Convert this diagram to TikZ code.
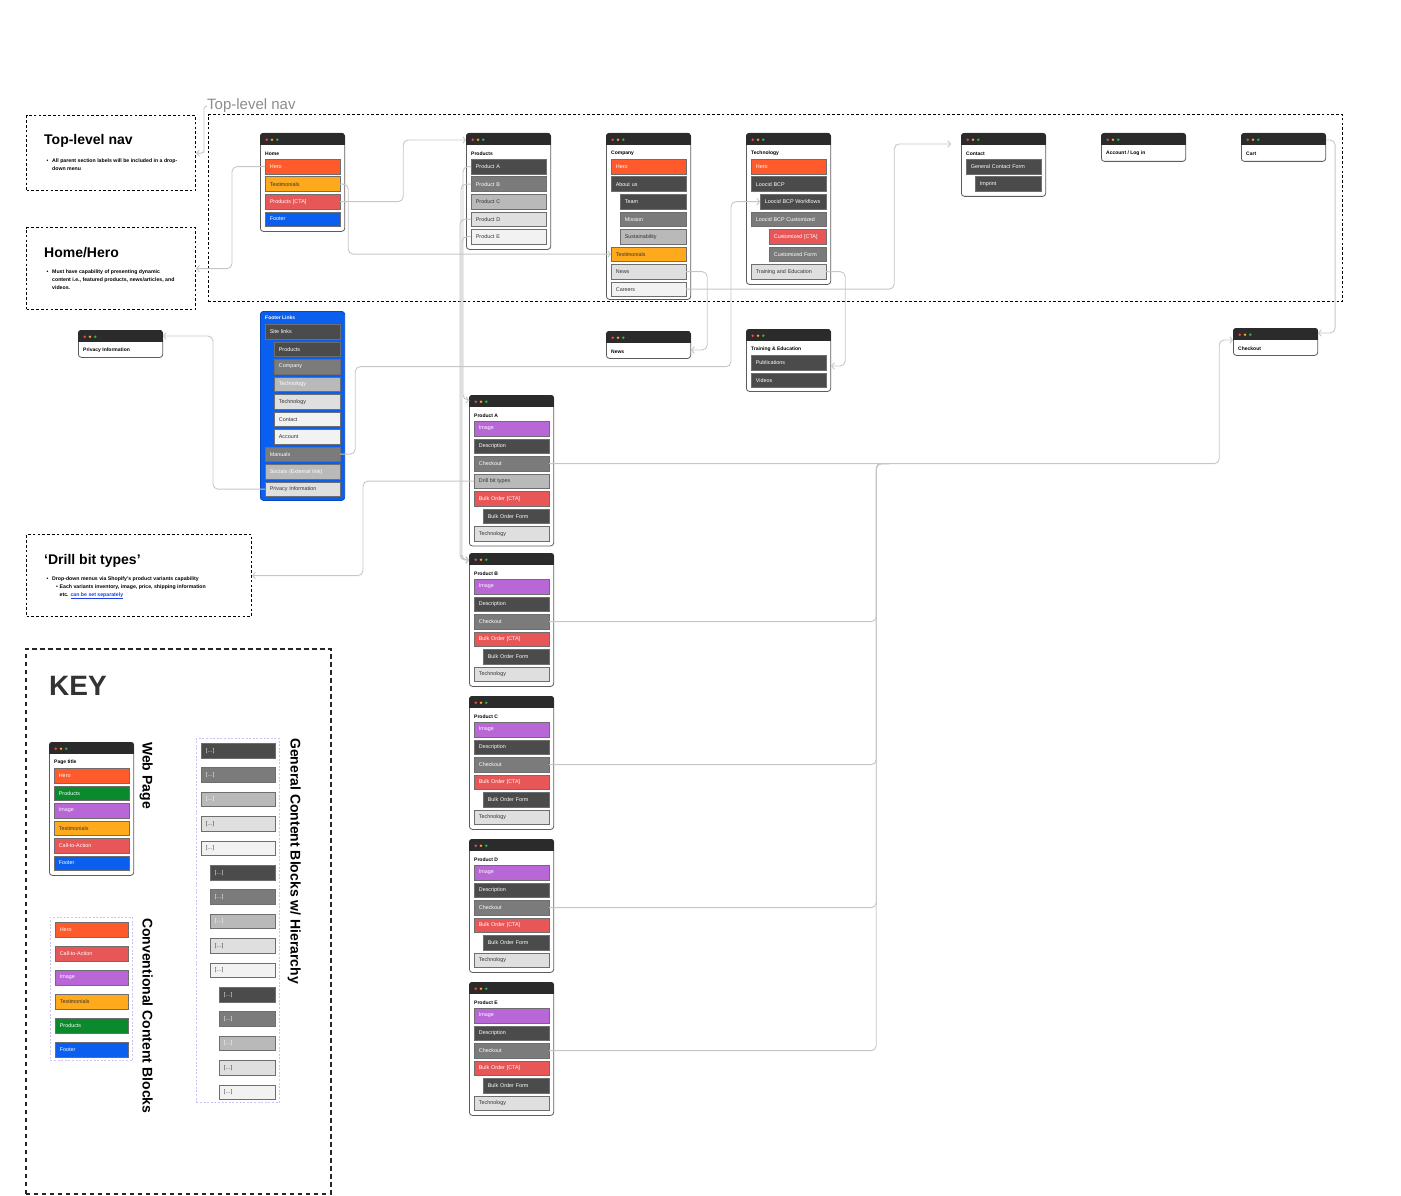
\documentclass[tikz,border=0pt]{standalone}
\usepackage{fontspec}
\setmainfont{Liberation Sans}
\usetikzlibrary{arrows.meta, positioning, calc}
\definecolor{chero}{HTML}{FF5A2C}
\definecolor{ctest}{HTML}{FFAA1C}
\definecolor{ccta}{HTML}{E85757}
\definecolor{cfoot}{HTML}{0A5FEF}
\definecolor{cfootdk}{HTML}{0847BE}
\definecolor{cprod}{HTML}{0A8A2C}
\definecolor{cimg}{HTML}{B966D7}
\definecolor{gA}{HTML}{4B4B4B}
\definecolor{gB}{HTML}{7B7B7B}
\definecolor{gC}{HTML}{B9B9B9}
\definecolor{gD}{HTML}{DFDFDF}
\definecolor{gE}{HTML}{F2F2F2}
\definecolor{winbar}{HTML}{2B2B2B}
\definecolor{winedge}{HTML}{5C5C5C}
\definecolor{blkedge}{HTML}{6E6E6E}
\definecolor{wirecol}{HTML}{C6C6C6}
\definecolor{dotr}{HTML}{F0474A}
\definecolor{doty}{HTML}{F5A623}
\definecolor{dotg}{HTML}{2BB24C}
\definecolor{linkblue}{HTML}{1C3FE6}
\definecolor{grpline}{HTML}{C9C4F3}
\definecolor{navgray}{HTML}{8C8C8C}
\definecolor{inkdark}{HTML}{333333}

% one browser-style page: name, x, y, height, title
\newcommand{\pagewin}[5]{%
  \node[winbox, minimum height=#4] (#1) at (#2,#3) {};
  \begin{scope}
    \clip[rounded corners=3pt] (#1.north west) rectangle (#1.south east);
    \fill[winbar] (#1.north west) rectangle ([yshift=-12pt]#1.north east);
  \end{scope}
  \foreach \k/\dotc in {0/dotr,1/doty,2/dotg}
    \fill[fill=\dotc] ([xshift={6.7pt+5.3pt*\k}, yshift=-6.7pt]#1.north west) circle (1.4pt);
  \node[wintitle] (#1-t) at ([xshift=5pt, yshift=-20.7pt]#1.north west) {#5};
}

\begin{document}
\begin{tikzpicture}[x=1pt, y=-1pt,
    winbox/.style={draw=winedge, fill=white, line width=0.8pt, rounded corners=3pt,
                   minimum width=84.3pt, anchor=north west, inner sep=0pt},
    wintitle/.style={anchor=west, inner sep=0pt, font=\bfseries\fontsize{5}{6}\selectfont},
    blk/.style={draw=blkedge, line width=0.7pt, anchor=north west, minimum height=14.6pt,
                text width=65.5pt, inner xsep=4.5pt, inner ysep=0pt, align=left,
                font=\fontsize{5.4}{6}\selectfont},
    bhero/.style={fill=chero, text=white},
    btest/.style={fill=ctest, text=inkdark},
    bcta/.style={fill=ccta, text=white},
    bfoot/.style={fill=cfoot, text=white},
    bprod/.style={fill=cprod, text=white},
    bimg/.style={fill=cimg, text=white},
    bg1/.style={fill=gA, text=white},
    bg2/.style={fill=gB, text=white},
    bg3/.style={fill=gC, text=inkdark},
    bg3w/.style={fill=gC, text=white},
    bg4/.style={fill=gD, text=inkdark},
    bg5/.style={fill=gE, text=inkdark},
    note/.style={draw=black, line width=1.2pt, dash pattern=on 2.6pt off 2.2pt,
                 anchor=north west, inner sep=0pt},
    notehead/.style={anchor=base west, inner sep=0pt,
                     font=\bfseries\fontsize{14}{16}\selectfont},
    notebody/.style={anchor=north west, inner sep=0pt, align=left,
                     font=\bfseries\fontsize{5.2}{7.6}\selectfont},
    wire/.style={draw=wirecol, line width=0.9pt, rounded corners=5pt},
    arrowed/.style={-{Straight Barb[length=2.6pt, width=6.5pt]}},
    keyframe/.style={draw=black!85, line width=1.8pt, dash pattern=on 4.5pt off 3.5pt,
                     anchor=north west, inner sep=0pt},
    grpbox/.style={draw=grpline, line width=0.7pt, dash pattern=on 2pt off 1.6pt,
                   anchor=north west, inner sep=0pt},
    sidelabel/.style={rotate=-90, anchor=north west, inner sep=0pt,
                      font=\bfseries\fontsize{14}{16}\selectfont},
]
\useasboundingbox (0,0) rectangle (1401,1196);

% ---------------------------------------------------------------- notes
\node[note, minimum width=169pt, minimum height=75pt] (note-nav) at (26,115) {};
\node[notehead] (note-nav-h) at (44,145) {Top-level nav};
\node[notebody] (note-nav-b) at (46.5,159)
    {\makebox[5.5pt][l]{\textbullet}All parent section labels will be included in a drop-\\
     \hspace*{5.5pt}down menu};

\node[note, minimum width=169pt, minimum height=82pt] (note-home) at (26,227) {};
\node[notehead] (note-home-h) at (44,257) {Home/Hero};
\node[notebody] (note-home-b) at (46.5,270)
    {\makebox[5.5pt][l]{\textbullet}Must have capability of presenting dynamic\\
     \hspace*{5.5pt}content i.e., featured products, news/articles, and\\
     \hspace*{5.5pt}videos.};

\node[note, minimum width=225pt, minimum height=82pt] (note-drill) at (26,534) {};
\node[notehead] (note-drill-h) at (44,564) {‘Drill bit types’};
\node[notebody] (note-drill-b) at (46.5,577)
    {\makebox[5.5pt][l]{\textbullet}Drop-down menus via Shopify’s product variants capability\\
     \hspace*{9.5pt}\makebox[3.5pt][l]{\textbullet}Each variants inventory, image, price, shipping information\\
     \hspace*{13pt}etc. \textcolor{linkblue}{\underline{can be set separately}}};

% ---------------------------------------------------------------- top-level nav
\node[note, minimum width=1134pt, minimum height=187pt] (nav) at (208,114) {};
\node[anchor=base west, inner sep=0pt, text=navgray, font=\fontsize{15}{17}\selectfont]
    (navlbl) at (207,110) {Top-level nav};

\pagewin{hm}{260}{133}{98}{Home}
\foreach \nm/\ind/\sty/\txt [count=\i from 0] in {hero/0/bhero/Hero,
    test/0/btest/Testimonials, cta/0/bcta/Products [CTA], foot/0/bfoot/Footer}
  \node[blk, \sty, text width={65.5pt-9pt*\ind}] (hm-\nm) at ({265+9*\ind}, {159+17.5*\i}) {\txt};

\pagewin{pr}{466}{133}{116}{Products}
\foreach \nm/\sty/\txt [count=\i from 0] in {a/bg1/Product A, b/bg2/Product B,
    c/bg3/Product C, d/bg4/Product D, e/bg5/Product E}
  \node[blk, \sty] (pr-\nm) at (471, {159+17.5*\i}) {\txt};

\pagewin{co}{606}{133}{166}{Company}
\foreach \nm/\ind/\sty/\txt [count=\i from 0] in {hero/0/bhero/Hero, about/0/bg1/About us,
    team/1/bg1/Team, mis/1/bg2/Mission, sus/1/bg3/Sustainability,
    test/0/btest/Testimonials, news/0/bg4/News, car/0/bg5/Careers}
  \node[blk, \sty, text width={65.5pt-9pt*\ind}] (co-\nm) at ({611+9*\ind}, {159+17.5*\i}) {\txt};

\pagewin{te}{746}{133}{151}{Technology}
\foreach \nm/\ind/\sty/\txt [count=\i from 0] in {hero/0/bhero/Hero, bcp/0/bg1/Loocid BCP,
    wf/1/bg1/Loocid BCP Workflows, cus/0/bg2/Loocid BCP Customized,
    ccta/2/bcta/Customized [CTA], cform/2/bg2/Customized Form,
    tr/0/bg4/Training and Education}
  \node[blk, \sty, text width={65.5pt-9pt*\ind}] (te-\nm) at ({751+9*\ind}, {159+17.5*\i}) {\txt};

\pagewin{ct}{961}{133}{63}{Contact}
\foreach \nm/\ind/\sty/\txt [count=\i from 0] in {gcf/0/bg1/General Contact Form,
    imp/1/bg1/Imprint}
  \node[blk, \sty, text width={65.5pt-9pt*\ind}] (ct-\nm) at ({966+9*\ind}, {159+17.5*\i}) {\txt};

\pagewin{acc}{1101}{133}{28}{Account / Log in}
\pagewin{cart}{1241}{133}{28}{Cart}

% ---------------------------------------------------------------- second level
\node[winbox, fill=cfoot, draw=cfootdk, minimum height=189pt] (ft) at (260,311) {};
\node[wintitle, text=white] (ft-t) at (265,318) {Footer Links};
\foreach \nm/\ind/\sty/\txt [count=\i from 0] in {site/0/bg1/Site links,
    prod/1/bg1/Products, comp/1/bg2/Company, tech/1/bg3w/Technology,
    tech2/1/bg4/Technology, cont/1/bg5/Contact, acct/1/bg5/Account,
    man/0/bg2/Manuals, soc/0/bg3w/Socials (External link), priv/0/bg4/Privacy Information}
  \node[blk, \sty, text width={65.5pt-9pt*\ind}] (ft-\nm) at ({265+9*\ind}, {324+17.5*\i}) {\txt};

\pagewin{pv}{78}{330}{27}{Privacy Information}
\pagewin{nw}{606}{331}{27}{News}
\pagewin{tr}{746}{329}{62}{Training \& Education}
\foreach \nm/\sty/\txt [count=\i from 0] in {pub/bg1/Publications, vid/bg1/Videos}
  \node[blk, \sty] (tr-\nm) at (751, {355+17.5*\i}) {\txt};
\pagewin{chk}{1233}{328}{27}{Checkout}

% ---------------------------------------------------------------- product pages
\pagewin{pa}{469}{395}{150.5}{Product A}
\foreach \nm/\ind/\sty/\txt [count=\i from 0] in {img/0/bimg/Image, desc/0/bg1/Description,
    chk/0/bg2/Checkout, drill/0/bg3/Drill bit types, cta/0/bcta/Bulk Order [CTA],
    form/1/bg1/Bulk Order Form, tech/0/bg4/Technology}
  \node[blk, \sty, text width={65.5pt-9pt*\ind}] (pa-\nm) at ({474+9*\ind}, {421+17.5*\i}) {\txt};

\foreach \w/\top/\lbl in {pb/553/Product B, pc/696/Product C, pd/839/Product D,
    pe/982/Product E} {
  \pagewin{\w}{469}{\top}{133}{\lbl}
  \foreach \nm/\ind/\sty/\txt [count=\i from 0] in {img/0/bimg/Image,
      desc/0/bg1/Description, chk/0/bg2/Checkout, cta/0/bcta/Bulk Order [CTA],
      form/1/bg1/Bulk Order Form, tech/0/bg4/Technology}
    \node[blk, \sty, text width={65.5pt-9pt*\ind}] (\w-\nm)
        at ({474+9*\ind}, {\top+26+17.5*\i}) {\txt};
}

% ---------------------------------------------------------------- connectors
\draw[wire, arrowed, rounded corners=2.5pt] (navlbl.west) -- ++(-3,0) |- (note-nav.east);
\draw[wire, arrowed] (hm-hero.west) -- ++(-33,0) |- (note-home.east);
\draw[wire, arrowed] (hm-cta.east) -- ++(63,0) |- ([yshift=-7pt]pr.north west);
\draw[wire, arrowed] (hm-test.east) -- ++(8,0) |- (co-test.west);
\draw[wire, arrowed] (pr-a.west) -- ++(-8,0) |- ([yshift=-5pt]pa.north west);
\foreach \nm/\dx in {b/-10, d/-11, e/-9}
  \draw[wire, arrowed] (pr-\nm.west) -- ++(\dx,0) |- ([yshift=-7pt]pb.north west);
\draw[wire, arrowed] (co-news.east) -- ++(21,0) |- ([yshift=-19pt]nw.north east);
\draw[wire, arrowed, shorten >=10pt] (co-car.east) -- ++(208,0) |- ([yshift=-11pt]ct.north west);
\draw[wire, arrowed] (ft-man.east) -- ++(15,0) -- ++(0,-87.5)
    -| ([xshift=-29pt]te-wf.west) -- (te-wf.west);
\draw[wire, arrowed] (te-tr.east) -- ++(19,0) |- ([yshift=-37pt]tr.north east);
\draw[wire, arrowed] ([yshift=-7pt]cart.north east) -- ++(9,0) |- ([yshift=-5pt]chk.north east);
\draw[wire, arrowed] (ft-priv.west) -- ++(-52,0) |- ([yshift=-6pt]pv.north east);
\draw[wire, arrowed] (pa-drill.west) -- ++(-111,0) |- (note-drill.east);
\draw[wire, arrowed] (pa-chk.east) -- ++(670,0) |- ([yshift=-12pt]chk.north west);
\foreach \w in {pb, pc, pd, pe}
  \draw[wire] (\w-chk.east) -- ++(327,0) |- ([xshift=340pt]pa-chk.east);

% ---------------------------------------------------------------- key
\node[keyframe, minimum width=305pt, minimum height=545pt] (key) at (25,648) {};
\node[anchor=base west, inner sep=0pt, text=inkdark, font=\bfseries\fontsize{28}{30}\selectfont]
    (key-t) at (49,695) {KEY};

\pagewin{kw}{49}{742}{133}{Page title}
\foreach \nm/\sty/\txt [count=\i from 0] in {hero/bhero/Hero, prod/bprod/Products,
    img/bimg/Image, test/btest/Testimonials, cta/bcta/Call-to-Action, foot/bfoot/Footer}
  \node[blk, \sty] (kw-\nm) at (54, {768+17.5*\i}) {\txt};
\node[sidelabel] (kw-lbl) at (153,742) {Web Page};

\node[grpbox, minimum width=82pt, minimum height=143pt] (kc) at (50,917) {};
\foreach \nm/\sty/\txt [count=\i from 0] in {hero/bhero/Hero, cta/bcta/Call-to-Action,
    img/bimg/Image, test/btest/Testimonials, prod/bprod/Products, foot/bfoot/Footer}
  \node[blk, \sty, text width=64pt] (kc-\nm) at (55, {922+24*\i}) {\txt};
\node[sidelabel] (kc-lbl) at (153,918) {Conventional Content Blocks};

\node[grpbox, minimum width=83pt, minimum height=364pt] (kg) at (196,738) {};
\foreach \lv in {0,1,2}
  \foreach \sty [count=\j from 0] in {bg1, bg2, bg3w, bg4, bg5}
    \node[blk, \sty, text width={65pt-9pt*\lv}] (kg-\lv-\j)
        at ({201+9*\lv}, {743+24.4*(5*\lv+\j)}) {[…]};
\node[sidelabel] (kg-lbl) at (301,738) {General Content Blocks w/ Hierarchy};

\end{tikzpicture}
\end{document}
